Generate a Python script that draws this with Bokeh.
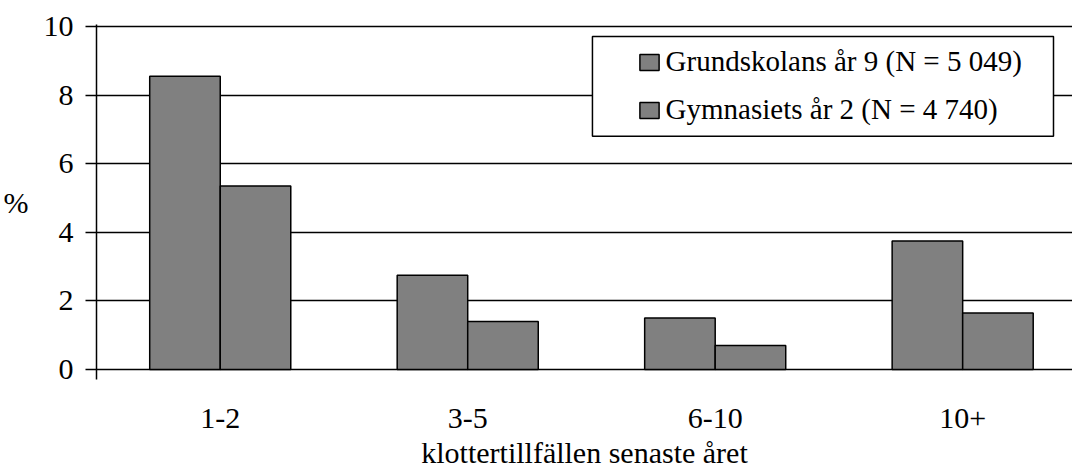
from bokeh.plotting import figure
from bokeh.models import (Range1d, FixedTicker, Legend, LegendItem, BoxAnnotation,
                          ColumnDataSource)
from bokeh.transform import dodge
from bokeh.embed import file_html
from bokeh.resources import INLINE

categories = ["1-2", "3-5", "6-10", "10+"]
grundskolan = [8.55, 2.75, 1.5, 3.75]
gymnasiet = [5.35, 1.4, 0.7, 1.65]
series_names = ["Grundskolans år 9 (N = 5 049)", "Gymnasiets år 2 (N = 4 740)"]
x_title = "klottertillfällen senaste året"
y_title = "%"
y_ticks = [0, 2, 4, 6, 8, 10]

FONT = "'Liberation Serif'"

xpos = [i + 0.5 for i in range(len(categories))]
src = ColumnDataSource(dict(x=xpos, a=grundskolan, b=gymnasiet))

p = figure(width=1072, height=474, output_backend="svg", toolbar_location=None,
           x_range=Range1d(0, 982 / 249), y_range=Range1d(-0.29, 10.06),
           min_border_left=90, min_border_right=0, min_border_top=24, min_border_bottom=95)
p.outline_line_color = None
p.background_fill_color = "white"
p.border_fill_color = "white"

bw = 0.285
r1 = p.vbar(x=dodge("x", -bw / 2), top="a", width=bw, bottom=0, source=src,
            fill_color="#808080", line_color="black", line_width=1.5)
r2 = p.vbar(x=dodge("x", bw / 2), top="b", width=bw, bottom=0, source=src,
            fill_color="#808080", line_color="black", line_width=1.5)

# x axis
p.xaxis.ticker = FixedTicker(ticks=xpos)
p.xaxis.major_label_overrides = {x: c for x, c in zip(xpos, categories)}
p.xaxis.axis_line_color = None
p.xaxis.major_tick_line_color = None
p.xaxis.minor_tick_line_color = None
p.xaxis.major_label_standoff = 23
p.xaxis.axis_label = x_title
p.xaxis.axis_label_standoff = 5
p.xgrid.grid_line_color = None

# y axis
p.yaxis.ticker = FixedTicker(ticks=y_ticks)
p.yaxis.axis_line_color = "black"
p.yaxis.axis_line_width = 1.5
p.yaxis.major_tick_line_color = "black"
p.yaxis.major_tick_line_width = 1.5
p.yaxis.major_tick_out = 11
p.yaxis.major_tick_in = 0
p.yaxis.minor_tick_line_color = None
p.yaxis.major_label_standoff = 12
p.yaxis.axis_label = y_title
p.yaxis.axis_label_orientation = "horizontal"
p.yaxis.axis_label_standoff = 12
p.ygrid.ticker = FixedTicker(ticks=y_ticks)
p.ygrid.grid_line_color = "black"
p.ygrid.grid_line_width = 1.5

for ax in (p.xaxis[0], p.yaxis[0]):
    ax.major_label_text_font = FONT
    ax.major_label_text_font_size = "30px"
    ax.major_label_text_color = "black"
    ax.axis_label_text_font = FONT
    ax.axis_label_text_font_size = "30px"
    ax.axis_label_text_font_style = "normal"
    ax.axis_label_text_color = "black"

# legend frame
box = BoxAnnotation(left=2.004, right=3.867, top=9.71, bottom=6.80,
                    fill_color="white", fill_alpha=1.0,
                    line_color="black", line_alpha=1.0, line_width=1.5,
                    level="annotation")
p.add_layout(box)

legend = Legend(items=[LegendItem(label=series_names[0], renderers=[r1]),
                       LegendItem(label=series_names[1], renderers=[r2])],
                location=(540.6, 252.5), orientation="vertical",
                border_line_color=None, background_fill_alpha=0,
                padding=0, margin=0, spacing=14,
                glyph_width=24, glyph_height=20, label_height=34,
                label_standoff=5,
                label_text_font=FONT, label_text_font_size="29px",
                label_text_color="black")
p.add_layout(legend)

open("out.html", "w").write(file_html(p, INLINE))
